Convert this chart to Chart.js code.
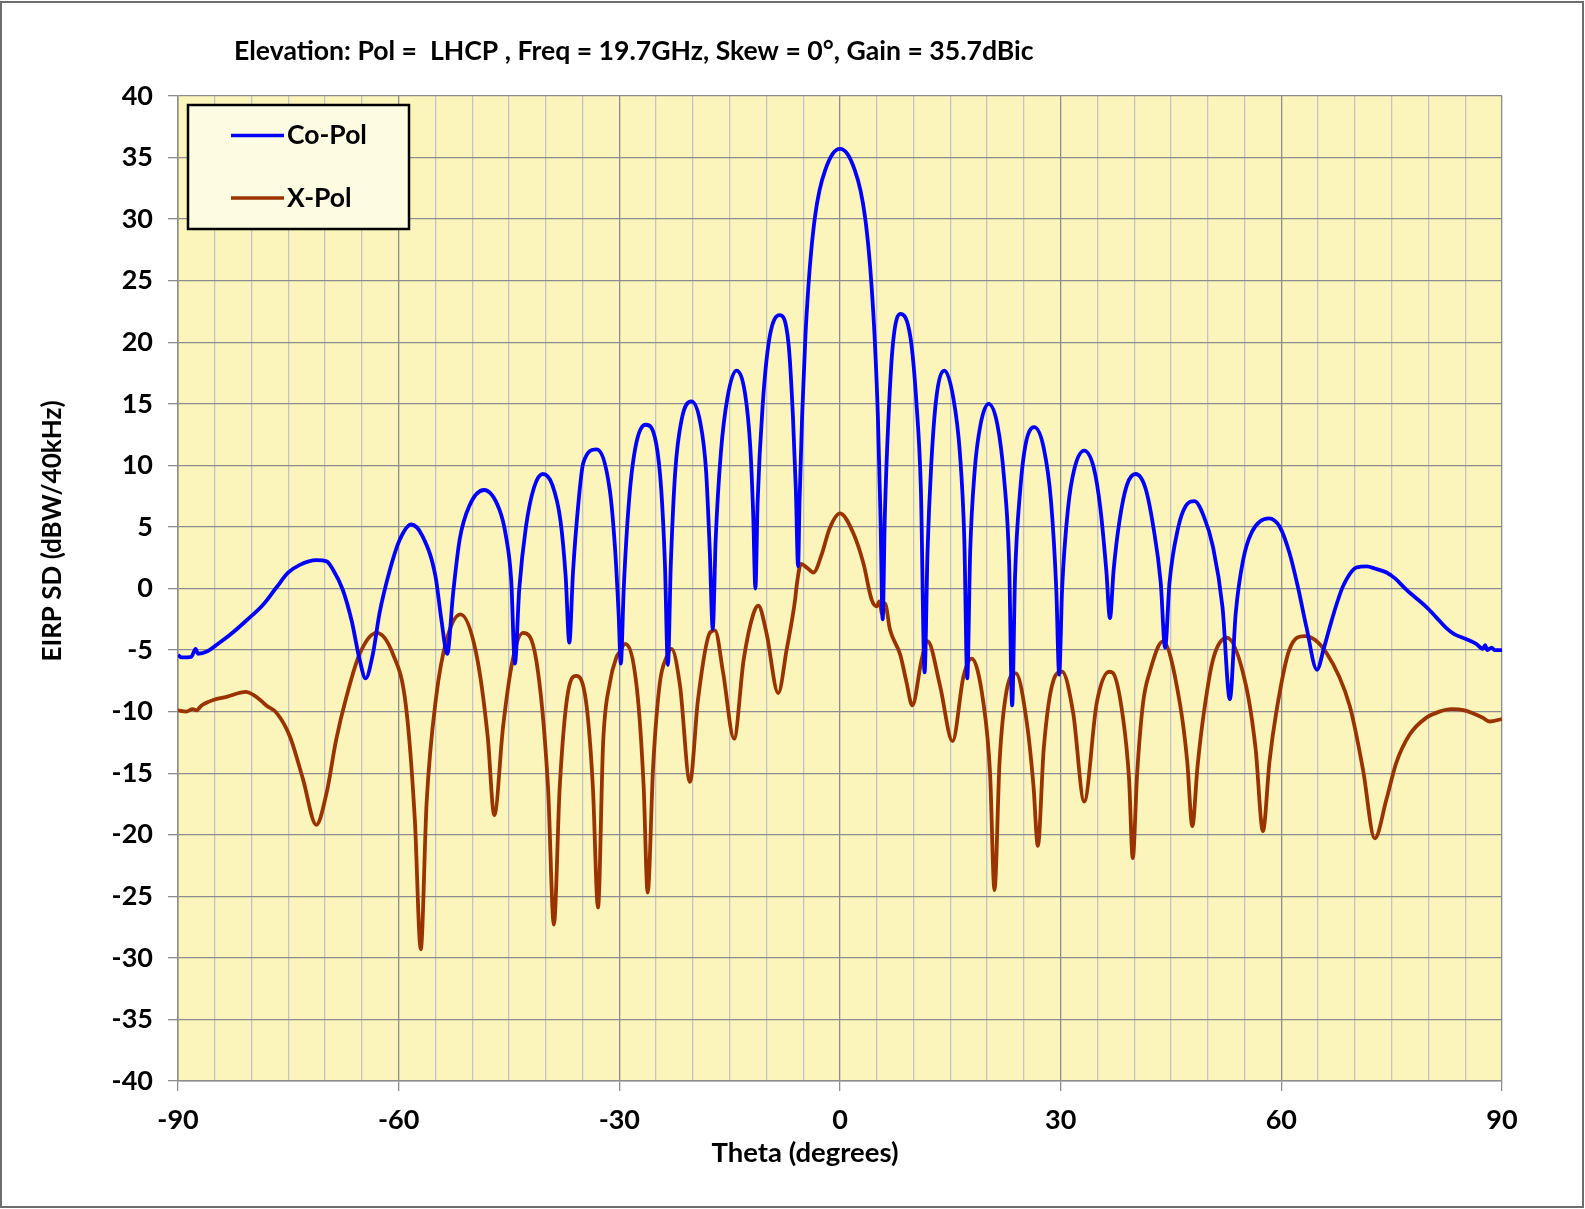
<!DOCTYPE html>
<html>
<head>
<meta charset="utf-8">
<script src="https://cdn.jsdelivr.net/npm/chart.js@4.4.1/dist/chart.umd.min.js"></script>
<style>
  html, body { margin: 0; padding: 0; background: #ffffff; }
  #wrap { width: 1585px; height: 1209px; position: relative; }
</style>
</head>
<body>
<div id="wrap"><canvas id="c" width="1585" height="1209"></canvas></div>
<script>
// ---------------- DATA ----------------
const chartTitle = "Elevation: Pol =  LHCP , Freq = 19.7GHz, Skew = 0°, Gain = 35.7dBic";
const xAxisTitle = "Theta (degrees)";
const yAxisTitle = "EIRP SD (dBW/40kHz)";
const seriesNames = ["Co-Pol", "X-Pol"];
const xTickLabels = [-90, -60, -30, 0, 30, 60, 90];
const yTickLabels = [-40, -35, -30, -25, -20, -15, -10, -5, 0, 5, 10, 15, 20, 25, 30, 35, 40];

const coPolTheta = [
  -90, -89.5, -88.2, -87.6, -87.3, -86, -84.8, -82.8, -80.7, -78.4, -76.6, -75.0, -73.5, -71.2, -69.8, -68.9, -67.6, -66.4, -65.3,
  -64.5, -63.5, -62.6, -61.2, -59.9, -58.3, -56.8, -55.0, -54.2, -53.4, -52.6, -51.7, -50.4, -48.4, -46.3, -45.4, -44.7,
  -44.2, -43.6, -42.7, -41.6, -40.4, -39.1, -38.0, -37.3, -36.8, -36.3, -35.6, -34.9, -33.1, -31.3, -30.6, -30.1,
  -29.8, -29.4, -28.7, -27.8, -26.4, -25.0, -24.3, -23.8, -23.4, -23.0, -22.4, -21.5, -20.2, -19.0, -18.2, -17.7,
  -17.3, -16.9, -16.2, -15.3, -14.1, -12.9, -12.2, -11.8, -11.5, -11.2, -10.5, -9.6, -8.2, -7.0, -6.4, -6.0,
  -5.7, -5.5, -5.15, -4.7, -4.3, -3.9, -3.4, -2.8, -2.0, -1.0, 0, 1.0, 2.0, 2.8, 3.4, 3.9, 4.3, 4.7, 5.15, 5.5,
  5.8, 6.1, 6.6, 7.2, 8.2, 9.6, 10.4, 11.0, 11.5, 11.9, 12.4, 13.1, 14.2, 15.4, 16.3, 16.9,
  17.3, 17.7, 18.3, 19.1, 20.2, 21.4, 22.3, 23.0, 23.4, 23.8, 24.5, 25.2, 26.4, 27.7, 28.7, 29.4,
  29.8, 30.2, 31.0, 31.9, 33.2, 34.5, 35.4, 36.2, 36.7, 37.2, 38.0, 39.0, 40.2, 41.5, 42.6, 43.6,
  44.2, 44.8, 46.0, 47.0, 48.2, 49.5, 50.7, 52.0, 53.0, 53.8, 54.8, 56.0, 58.3, 59.8, 61.1, 62.3, 63.4,
  64.85, 65.8, 66.6, 67.5, 68.4, 70.2, 71.6, 72.8, 74.3, 75.5, 77.0, 79.7, 81.0, 82.4, 83.5, 85.1, 86.5,
  87.4, 87.7, 88.0, 88.6, 89.0, 90
];
const coPolValues = [
  -5.4, -5.6, -5.55, -4.9, -5.3, -5.1, -4.6, -3.7, -2.6, -1.3, 0.1, 1.3, 1.9, 2.3, 2.2, 1.5, -0.1, -2.6, -5.8,
  -7.3, -5.3, -2.0, 1.5, 3.9, 5.2, 4.3, 1.0, -2.5, -5.3, -0.4, 4.0, 6.7, 8.0, 6.4, 4.2, 0.7,
  -6.1, 0.0, 5.0, 8.2, 9.3, 8.4, 5.5, 1.0, -4.4, 1.3, 6.7, 10.2, 11.3, 8.0, 3.4, -2.0,
  -6.1, 0.0, 7.0, 11.5, 13.3, 11.8, 8.0, 2.0, -6.2, 2.0, 9.5, 13.8, 15.2, 13.5, 9.5, 3.0,
  -3.3, 4.0, 11.0, 15.5, 17.7, 15.8, 11.5, 6.0, 0.0, 7.0, 15.0, 20.3, 22.2, 19.9, 14.0, 8.0,
  1.8, 7.0, 14.0, 20.5, 24.5, 27.5, 30.2, 32.3, 34.0, 35.3, 35.7, 35.3, 34.0, 32.3, 30.2, 27.5, 24.5, 20.5, 14.0, 6.0,
  -2.5, 6.0, 14.0, 19.9, 22.3, 20.3, 15.0, 8.0, -6.8, 3.0, 10.0, 15.5, 17.7, 15.5, 11.0, 4.0,
  -7.3, 3.0, 9.5, 13.3, 15.0, 13.3, 9.0, 2.0, -9.5, 1.0, 8.0, 11.6, 13.1, 11.4, 7.0, 0.0,
  -7.0, 0.0, 6.5, 9.8, 11.2, 9.8, 6.5, 1.5, -2.4, 1.5, 5.5, 8.4, 9.3, 8.2, 5.0, 0.5,
  -4.8, 0.5, 5.0, 6.7, 7.1, 5.8, 3.4, -1.5, -9.0, -2.0, 2.3, 4.6, 5.7, 5.0, 2.9, 0.0, -3.1,
  -6.6, -4.8, -3.1, -1.3, 0.2, 1.7, 1.8, 1.6, 1.3, 0.8, -0.1, -1.5, -2.3, -3.2, -3.7, -4.1, -4.5,
  -4.9, -4.6, -5.0, -4.8, -5.0, -5.0
];

const xPolTheta = [
  -90, -88.9, -88.0, -87.5, -86.8, -85.2, -83.4, -80.8, -79.35, -78.0, -76.6, -74.8, -73.0, -71.2, -69.8, -68.5, -67.1, -65.3,
  -63.0, -60.8, -59.0, -57.8, -57.0, -56.2, -54.9, -53.5, -51.6, -49.45, -47.9, -47.0, -45.8, -44.5, -43.1, -41.3,
  -39.7, -38.9, -38.1, -37.0, -35.85, -34.5, -33.6, -32.9, -32.2, -31.3, -30.4, -30.0, -29.2, -27.6, -26.7, -26.15,
  -25.4, -24.5, -23.6, -22.9, -21.75, -20.4, -19.3, -17.7, -17.0, -15.9, -14.4, -13.1, -11.8, -11.1, -10.0, -8.4,
  -7.25, -6.1, -5.9, -5.3, -4.5, -3.6, -2.5, -1.4, 0, 1.8, 3.2, 4.3, 5.0, 5.35, 5.75, 6.1, 6.8, 8.2, 9.0, 9.83,
  11.1, 11.9, 13.6, 15.3, 16.8, 17.9, 19.5, 20.4, 21.0, 21.7, 22.65, 23.9, 25.4, 26.3, 26.9, 27.7, 29.0, 30.2,
  31.7, 33.2, 34.9, 36.6, 37.1, 38.5, 39.3, 39.8, 40.4, 41.2, 42.1, 43.9, 46.2, 47.2, 47.9, 48.6, 49.35, 50.7,
  52.6, 55.2, 56.5, 57.5, 58.4, 59.3, 61.1, 63.2, 66.1, 69.3, 71.1, 72.7, 74.3, 75.6, 77.4, 79.7, 81.5, 83.1,
  84.9, 87.4, 88.3, 90
];
const xPolValues = [
  -9.9, -10.0, -9.8, -9.9, -9.5, -9.05, -8.8, -8.4, -8.8, -9.5, -10.1, -12.0, -15.5, -19.2, -16.6, -12.3, -8.8, -5.3,
  -3.6, -5.3, -9.6, -18.8, -29.3, -17.4, -8.8, -4.2, -2.1, -5.3, -12.0, -18.4, -11.2, -5.8, -3.6, -5.8,
  -16.1, -27.3, -16.1, -8.5, -7.1, -9.3, -16.1, -25.9, -12.5, -7.7, -5.6, -5.2, -4.5, -8.2, -16.0, -24.7,
  -14.4, -7.7, -5.6, -4.9, -7.9, -15.7, -9.0, -3.6, -3.4, -6.8, -12.2, -5.8, -2.1, -1.4, -3.6, -8.5,
  -4.95, -0.9, 0.2, 2.0, 1.7, 1.3, 2.75, 4.9, 6.1, 4.5, 2.0, -0.9, -1.45, -1.05, -2.1, -1.2, -3.35, -5.4, -7.5, -9.5,
  -5.76, -4.27, -7.9, -12.4, -7.1, -5.7, -9.3, -15.0, -24.5, -14.0, -8.3, -6.9, -10.9, -16.0, -20.9, -13.0, -7.5, -6.76,
  -10.1, -17.3, -9.3, -6.76, -6.85, -10.6, -15.5, -21.9, -15.0, -9.3, -6.8, -4.3, -9.3, -14.0, -19.3, -14.5, -10.6, -5.8,
  -4.0, -7.9, -13.0, -19.7, -14.0, -10.1, -4.95, -3.86, -5.2, -9.55, -14.7, -20.3, -17.1, -14.2, -11.9, -10.5, -10.0, -9.8,
  -9.9, -10.5, -10.8, -10.6
];

// ---------------- STYLE ----------------
const FONT = 'Lato, "Liberation Sans", sans-serif';
const COLORS = ['#0000ff', '#993300'];
const PLOT_BG = '#fcf5bb';
const GRID_DARK = '#8c8c8c';
const GRID_LIGHT = '#c4c4c4';

const toPoints = (xs, ys) => xs.map((t, i) => ({ x: t, y: ys[i] }));

const decorPlugin = {
  id: 'decor',
  beforeDraw(chart) {
    const { ctx, chartArea: a } = chart;
    ctx.save();
    ctx.fillStyle = '#ffffff';
    ctx.fillRect(0, 0, chart.width, chart.height);
    ctx.fillStyle = PLOT_BG;
    ctx.fillRect(a.left, a.top, a.right - a.left, a.bottom - a.top);
    ctx.restore();
  },
  afterDraw(chart) {
    const { ctx } = chart;
    ctx.save();
    // outer border
    ctx.strokeStyle = '#6e6e6e';
    ctx.lineWidth = 2;
    ctx.strokeRect(1, 2, 1582, 1205);
    // title
    ctx.fillStyle = '#000';
    ctx.font = 'bold 26.6px ' + FONT;
    ctx.textAlign = 'left';
    ctx.textBaseline = 'middle';
    ctx.fillText(chartTitle, 234, 51);
    // x axis title
    ctx.font = 'bold 27.5px ' + FONT;
    ctx.textAlign = 'center';
    ctx.fillText(xAxisTitle, 805, 1153);
    // y axis title
    ctx.font = 'bold 26px ' + FONT;
    ctx.save();
    ctx.translate(53, 531);
    ctx.rotate(-Math.PI / 2);
    ctx.fillText(yAxisTitle, 0, 0);
    ctx.restore();
    // legend
    const lx = 188, ly = 105, lw = 221, lh = 124;
    ctx.fillStyle = '#fdfbe1';
    ctx.fillRect(lx, ly, lw, lh);
    ctx.strokeStyle = '#000';
    ctx.lineWidth = 2.5;
    ctx.strokeRect(lx, ly, lw, lh);
    const rows = [135.5, 198];
    chart.data.datasets.forEach((ds, i) => {
      ctx.strokeStyle = ds.borderColor;
      ctx.lineWidth = 3.6;
      ctx.beginPath();
      ctx.moveTo(231, rows[i]);
      ctx.lineTo(284, rows[i]);
      ctx.stroke();
      ctx.fillStyle = '#000';
      ctx.font = 'bold 26.5px ' + FONT;
      ctx.textAlign = 'left';
      ctx.textBaseline = 'middle';
      ctx.fillText(ds.label, 287, rows[i]);
    });
    ctx.restore();
  }
};

new Chart(document.getElementById('c'), {
  type: 'line',
  data: {
    datasets: [
      { label: seriesNames[0], data: toPoints(coPolTheta, coPolValues), borderColor: COLORS[0], borderWidth: 3.8,
        pointRadius: 0, cubicInterpolationMode: 'monotone', fill: false },
      { label: seriesNames[1], data: toPoints(xPolTheta, xPolValues), borderColor: COLORS[1], borderWidth: 3.8,
        pointRadius: 0, cubicInterpolationMode: 'monotone', fill: false }
    ]
  },
  options: {
    responsive: false,
    animation: false,
    devicePixelRatio: 1,
    layout: { padding: { top: 96, right: 83, left: 0, bottom: 0 } },
    plugins: { legend: { display: false }, title: { display: false }, tooltip: { enabled: false } },
    scales: {
      x: {
        type: 'linear', min: -90, max: 90,
        afterFit(s) { s.height = 128; },
        ticks: {
          stepSize: 5, autoSkip: false, maxRotation: 0, padding: 13, color: '#000',
          font: { family: FONT, size: 27, weight: 'bold' },
          callback: v => (xTickLabels.includes(v) ? String(v) : '')
        },
        grid: {
          color: c => (c.tick && xTickLabels.includes(c.tick.value) ? GRID_DARK : GRID_LIGHT),
          lineWidth: 1.3,
          tickLength: 10,
          tickColor: c => (c.tick && xTickLabels.includes(c.tick.value) ? GRID_DARK : 'rgba(0,0,0,0)')
        },
        border: { color: GRID_DARK, width: 1.5 }
      },
      y: {
        min: -40, max: 40,
        afterFit(s) { s.width = 178; },
        afterBuildTicks(s) { s.ticks = yTickLabels.map(v => ({ value: v })); },
        ticks: {
          stepSize: 5, padding: 15, color: '#000',
          font: { family: FONT, size: 27, weight: 'bold' }
        },
        grid: { color: GRID_DARK, lineWidth: 1.3, tickLength: 10, tickColor: GRID_DARK },
        border: { color: GRID_DARK, width: 1.5 }
      }
    }
  },
  plugins: [decorPlugin]
});
</script>
</body>
</html>
